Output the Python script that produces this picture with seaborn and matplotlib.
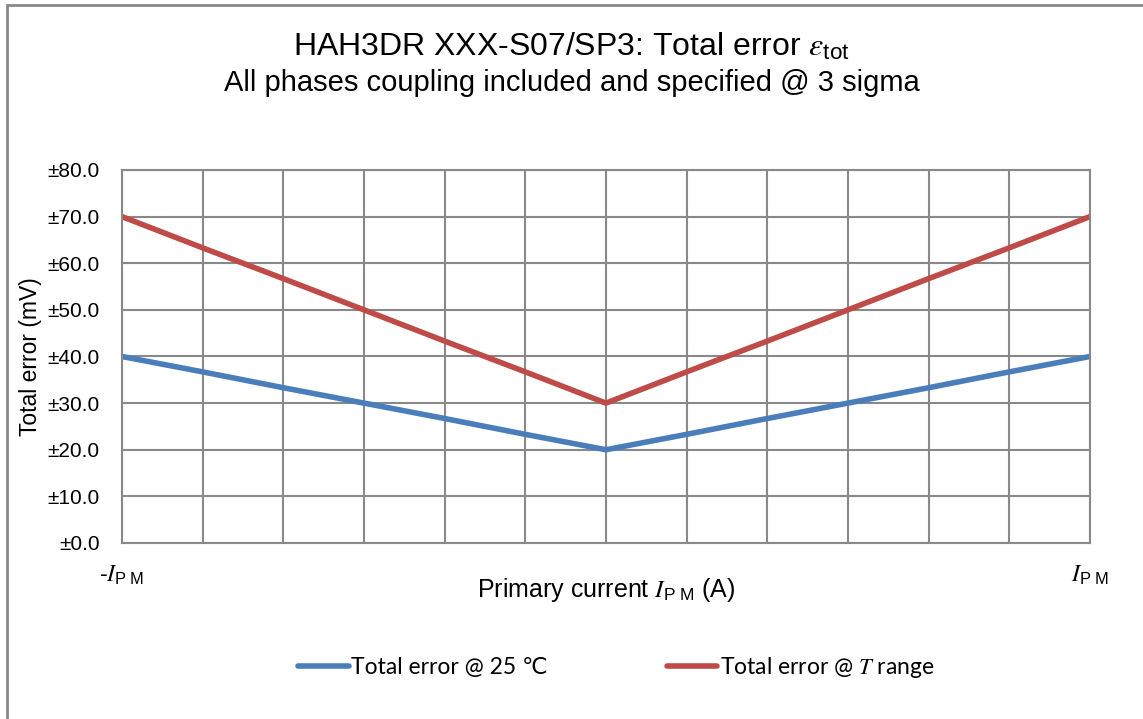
import pandas as pd
import numpy as np
import seaborn as sns
import matplotlib.pyplot as plt
from matplotlib.patches import Rectangle

sns.set_style("white")
plt.rcParams['font.family'] = ['Liberation Sans', 'DejaVu Sans']
plt.rcParams['text.color'] = 'black'
plt.rcParams['xtick.color'] = 'black'
plt.rcParams['ytick.color'] = 'black'
plt.rcParams['axes.labelcolor'] = 'black'
plt.rcParams['mathtext.fontset'] = 'custom'
plt.rcParams['mathtext.rm'] = 'Liberation Sans'
plt.rcParams['mathtext.sf'] = 'Liberation Sans'
plt.rcParams['mathtext.it'] = 'STIXGeneral:italic'

# current steps from -I_PM to +I_PM (12 grid intervals)
steps = [-6, -5, -4, -3, -2, -1, 0, 1, 2, 3, 4, 5, 6]
err_25c = [40.0, 36.7, 33.3, 30.0, 26.7, 23.3, 20.0, 23.3, 26.7, 30.0, 33.3, 36.7, 40.0]
err_trange = [70.0, 63.3, 56.7, 50.0, 43.3, 36.7, 30.0, 36.7, 43.3, 50.0, 56.7, 63.3, 70.0]
series_names = ['Total error @ 25 \u2103', r'Total error @ $T$ range']
yticks = [0, 10, 20, 30, 40, 50, 60, 70, 80]

df = pd.DataFrame({
    'step': steps * 2,
    'err': err_25c + err_trange,
    'series': [series_names[0]] * len(steps) + [series_names[1]] * len(steps),
})

fig = plt.figure(figsize=(11.43, 7.19), dpi=100)
ax = fig.add_axes([0.1067, 0.2448, 0.8469, 0.5188])

sns.lineplot(data=df, x='step', y='err', hue='series', ax=ax,
             palette=['#4a7ebb', '#be4b48'], linewidth=4, legend=False)

ax.set_xlim(-6, 6)
ax.set_ylim(0, 80)
ax.set_xticks(steps, minor=True)
ax.set_yticks(yticks)
ax.set_yticklabels([f'\u00b1{v:.1f}' for v in yticks], fontsize=15)
ax.set_xticks([-6, 6])
ax.set_xticklabels([r'-$I_{\mathrm{P\ M}}$', r'$I_{\mathrm{P\ M}}$'], fontsize=17)
ax.tick_params(axis='y', which='both', length=0, pad=16)
ax.tick_params(axis='x', which='both', length=0, pad=15)
ax.grid(True, which='both', color='#898989', linewidth=1.5)
for s in ax.spines.values():
    s.set_color('#898989')
    s.set_linewidth(1.5)

ax.set_xlabel(r'Primary current $I_{\mathrm{P\ M}}$ (A)', fontsize=18, labelpad=-8)
ax.set_ylabel('Total error (mV)', fontsize=16.5, labelpad=4)

fig.text(0.5, 0.935, r'HAH3DR XXX-S07/SP3: Total error $\varepsilon_{\mathrm{tot}}$',
         ha='center', va='center', fontsize=23)
fig.text(0.5, 0.885, 'All phases coupling included and specified @ 3 sigma',
         ha='center', va='center', fontsize=21)

handles = [plt.Line2D([], [], color='#4a7ebb', linewidth=4),
           plt.Line2D([], [], color='#be4b48', linewidth=4)]
fig.legend(handles, series_names, loc='center', bbox_to_anchor=(0.539, 0.071), ncol=2,
           frameon=False, columnspacing=5.2, handlelength=2.2, handletextpad=0.1,
           prop={'family': ['Lato', 'DejaVu Sans'], 'size': 16.5})

fig.patches.append(Rectangle((0.0057, -0.05), 1.1, 1.043, transform=fig.transFigure,
                             fill=False, edgecolor='#898989', linewidth=2))

fig.savefig('out.png', dpi=100)
